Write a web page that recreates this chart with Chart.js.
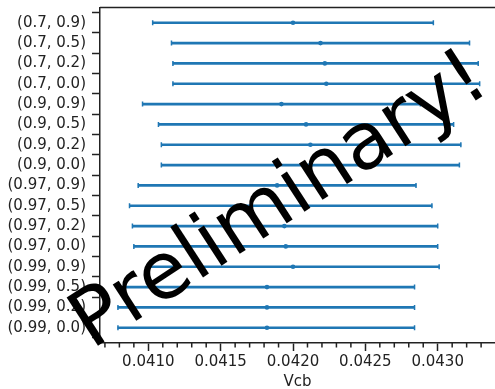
<!DOCTYPE html>
<html>
<head>
<meta charset="utf-8">
<script src="https://cdn.jsdelivr.net/npm/chart.js@4"></script>
<style>
  html, body { margin: 0; padding: 0; background: #fff; overflow: hidden; }
</style>
</head>
<body>
<canvas id="chart" width="495" height="389"></canvas>
<script>
// configurations, top to bottom
const labels = ['(0.7, 0.9)', '(0.7, 0.5)', '(0.7, 0.2)', '(0.7, 0.0)',
                '(0.9, 0.9)', '(0.9, 0.5)', '(0.9, 0.2)', '(0.9, 0.0)',
                '(0.97, 0.9)', '(0.97, 0.5)', '(0.97, 0.2)', '(0.97, 0.0)',
                '(0.99, 0.9)', '(0.99, 0.5)', '(0.99, 0.2)', '(0.99, 0.0)'];

// Vcb central values and error bar ends
const vcbCentral = [0.04200, 0.04219, 0.04222, 0.04223, 0.04192, 0.04209, 0.04212, 0.04212,
                    0.04189, 0.04191, 0.04194, 0.04195, 0.04200, 0.04182, 0.04182, 0.04182];
const vcbLow     = [0.04103, 0.04116, 0.04117, 0.04117, 0.04096, 0.04107, 0.04109, 0.04109,
                    0.04093, 0.04087, 0.04089, 0.04090, 0.04099, 0.04079, 0.04079, 0.04079];
const vcbHigh    = [0.04297, 0.04322, 0.04328, 0.04329, 0.04288, 0.04311, 0.04316, 0.04315,
                    0.04285, 0.04296, 0.04300, 0.04300, 0.04301, 0.04284, 0.04284, 0.04284];

const blue = '#1f77b4';
const ink = '#222';
const font = { family: 'DejaVu Sans', size: 15 };

const rows = labels.map((_, i) => i);
const isMajor = v => Math.round(v * 10000) % 5 === 0;

// top spine, minor x ticks and the watermark
const extras = {
  id: 'extras',
  afterDraw(chart) {
    const { ctx, chartArea: a, scales: { x } } = chart;
    ctx.save();
    ctx.strokeStyle = ink;
    ctx.lineWidth = 1.5;
    ctx.beginPath();
    ctx.moveTo(a.left, a.top);
    ctx.lineTo(a.right, a.top);
    x.ticks.forEach(t => {
      if (isMajor(t.value)) return;
      const px = x.getPixelForValue(t.value);
      ctx.moveTo(px, a.bottom);
      ctx.lineTo(px, a.bottom + 4.5);
    });
    ctx.stroke();

    ctx.translate(91.5, 350);
    ctx.rotate(-33 * Math.PI / 180);
    ctx.font = '79px "DejaVu Sans"';
    ctx.fillStyle = '#000';
    ctx.textBaseline = 'alphabetic';
    ctx.fillText('Preliminary!', 0, 0);
    ctx.restore();
  }
};

new Chart(document.getElementById('chart'), {
  type: 'scatter',
  data: {
    datasets: [
      {
        data: rows.map(i => ({ x: vcbCentral[i], y: i })),
        pointStyle: 'circle',
        pointRadius: 2.3,
        backgroundColor: blue,
        borderWidth: 0
      },
      {
        data: rows.flatMap(i => [{ x: vcbLow[i], y: i }, { x: vcbHigh[i], y: i }]),
        pointStyle: 'line',
        pointRotation: 90,
        pointRadius: 2.5,
        borderColor: blue,
        borderWidth: 1.5
      },
      {
        type: 'bar',
        indexAxis: 'y',
        data: rows.map(i => ({ x: [vcbLow[i], vcbHigh[i]], y: i })),
        backgroundColor: blue,
        barThickness: 2,
        borderWidth: 0
      }
    ]
  },
  options: {
    responsive: false,
    animation: false,
    events: [],
    layout: { autoPadding: false, padding: { top: 7.5, left: 0, right: 0, bottom: 0 } },
    plugins: { legend: { display: false }, tooltip: { enabled: false } },
    scales: {
      x: {
        type: 'linear',
        min: 0.040666,
        max: 0.043396,
        offset: false,
        ticks: {
          stepSize: 0.0001,
          includeBounds: false,
          autoSkip: false,
          maxRotation: 0,
          padding: 2,
          color: ink,
          font: font,
          callback: v => isMajor(v) ? v.toFixed(4) : ''
        },
        grid: {
          drawOnChartArea: false,
          tickLength: 8,
          tickWidth: 1.5,
          tickColor: c => (c.tick && isMajor(c.tick.value)) ? ink : 'rgba(0,0,0,0)'
        },
        border: { color: ink, width: 1.5 },
        title: {
          display: true,
          text: 'Vcb',
          color: ink,
          font: { family: 'DejaVu Sans', size: 15, lineHeight: 0.93 },
          padding: 0
        },
        afterFit: s => { s.height = 46; s.paddingLeft = 0; s.paddingRight = 0; }
      },
      y: {
        type: 'linear',
        reverse: true,
        min: -0.75,
        max: 15.75,
        offset: false,
        ticks: {
          stepSize: 1,
          includeBounds: false,
          autoSkip: false,
          padding: 6,
          color: ink,
          font: font,
          callback: v => labels[v] ?? ''
        },
        grid: { drawOnChartArea: false, tickLength: 8, tickWidth: 1.5, tickColor: ink },
        border: { color: ink, width: 1.5 },
        afterFit: s => { s.width = 100; s.paddingTop = 0; s.paddingBottom = 0; }
      }
    }
  },
  plugins: [extras]
});
</script>
</body>
</html>
